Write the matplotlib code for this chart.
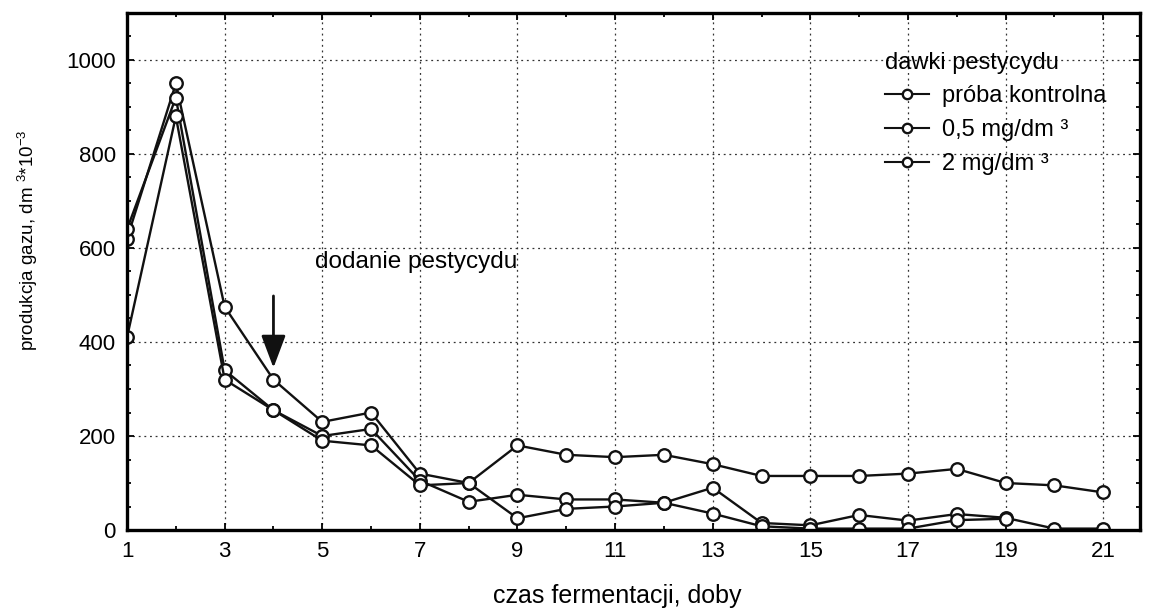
import numpy as np
import matplotlib
matplotlib.use("Agg")
import matplotlib.pyplot as plt
from matplotlib.ticker import MultipleLocator

plt.rcParams['font.family'] = ['Liberation Sans', 'DejaVu Sans']
plt.rcParams['mathtext.fontset'] = 'custom'
plt.rcParams['mathtext.rm'] = 'Liberation Sans'
plt.rcParams['mathtext.it'] = 'Liberation Sans'

# data
days = list(range(1, 22))
kontrola = [620, 950, 475, 320, 230, 250, 120, 100, 180, 160, 155, 160,
            140, 115, 115, 115, 120, 130, 100, 95, 80]
dawka_05 = [640, 920, 340, 255, 200, 215, 105, 60, 75, 65, 65, 58,
            90, 15, 10, 32, 20, 34, 26, 3, 3]
dawka_2 = [410, 880, 320, 255, 190, 180, 95, 100, 25, 45, 50, 58,
           35, 8, 3, 3, 3, 21, 24, np.nan, np.nan]

labels = ['próba kontrolna', '0,5 mg/dm ³', '2 mg/dm ³']

fig = plt.figure(figsize=(11.58, 6.09), dpi=100)
ax = fig.add_axes([0.1097, 0.1297, 0.875, 0.849])

style = dict(color='#111111', lw=1.7, marker='o', ms=9, mfc='white',
             mec='#111111', mew=1.7)
for vals, lab in zip([kontrola, dawka_05, dawka_2], labels):
    ax.plot(days, vals, label=lab, **style)

ax.set_xlim(1, 21.76)
ax.set_ylim(0, 1100)
ax.xaxis.set_minor_locator(MultipleLocator(1))
ax.yaxis.set_minor_locator(MultipleLocator(50))
ax.set_xticks(range(1, 22, 2))
ax.set_yticks(range(0, 1001, 200))
ax.tick_params(which='both', direction='in', top=True, right=True,
               labelsize=16, width=1.3)
ax.tick_params(which='major', length=5, pad=8)
ax.tick_params(which='minor', length=3)
for s in ax.spines.values():
    s.set_linewidth(2.4)

ax.grid(True, which='major', ls=(0, (1.5, 3)), color='#333333', lw=0.9)

ax.set_xlabel('czas fermentacji, doby', fontsize=18)
ax.xaxis.set_label_coords(0.484, -0.105)
ax.set_ylabel(r'produkcja gazu, dm $^{3}$*10$^{-3}$', fontsize=13.5)
ax.yaxis.set_label_coords(-0.086, 0.56)

# arrow marking when the pesticide was added
ax.annotate('', xy=(4, 345), xytext=(4, 498),
            arrowprops=dict(arrowstyle='-|>,head_length=2.0,head_width=0.75',
                            color='#111111', lw=2.0, shrinkA=0, shrinkB=0))
ax.text(4.85, 570, 'dodanie pestycydu', fontsize=17.5, va='center', ha='left')

leg = ax.legend(title='dawki pestycydu', loc='upper left',
                bbox_to_anchor=(0.736, 0.948), frameon=False, fontsize=17,
                title_fontsize=17, handlelength=1.9, handletextpad=0.55,
                labelspacing=0.5, borderpad=0, markerscale=0.75)
leg._legend_box.align = 'left'
for h in leg.legend_handles:
    h.set_linewidth(1.5)

fig.savefig('out.png', dpi=100, facecolor='white')
